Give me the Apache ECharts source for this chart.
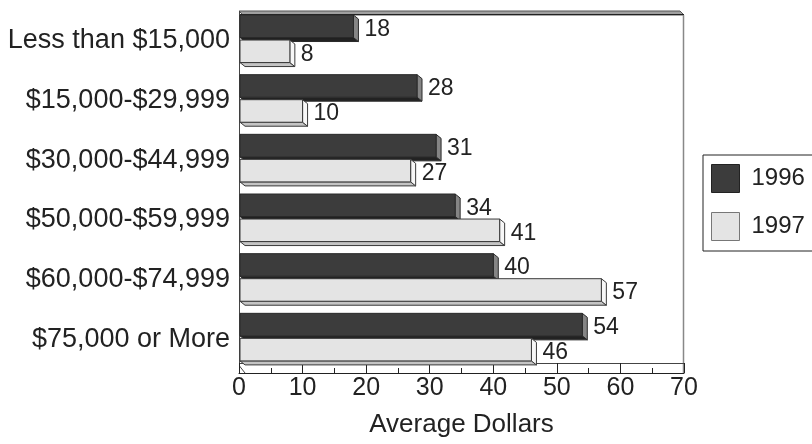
<!DOCTYPE html>
<html>
<head>
<meta charset="utf-8">
<script src="https://cdn.jsdelivr.net/npm/echarts@6/dist/echarts.min.js"></script>
<style>
html,body{margin:0;padding:0;background:#fff;}
#c{width:812px;height:444px;}
</style>
</head>
<body>
<div id="c"></div>
<script>
var categories = ['Less than $15,000', '$15,000-$29,999', '$30,000-$44,999', '$50,000-$59,999', '$60,000-$74,999', '$75,000 or More'];
var values1996 = [18, 28, 31, 34, 40, 54];
var values1997 = [8, 10, 27, 41, 57, 46];
var xTicks = [0, 10, 20, 30, 40, 50, 60, 70];

var FONT = '"Liberation Sans", Arial, sans-serif';
var styles = [
  {front: '#3c3c3c', side: '#858585', bottom: '#222222', stroke: '#2a2a2a', topFrac: 4 / 59.6},
  {front: '#e4e4e4', side: '#f7f7f7', bottom: '#c4c4c4', stroke: '#3a3a3a', topFrac: 29 / 59.6}
];

function makeRender(k) {
  var st = styles[k];
  return function (params, api) {
    var val = api.value(0);
    var idx = api.value(1);
    var s = api.coord([0, idx]);
    var e = api.coord([val, idx]);
    var band = api.size([0, 1])[1];
    var top = s[1] - band / 2 + st.topFrac * band;
    var h = 22.5 / 59.6 * band;
    var x0 = s[0] + 1, x1 = e[0];
    var y0 = top, y1 = top + h;
    var dx = 5, dy = 4;
    var ls = {stroke: st.stroke, lineWidth: 1};
    return {
      type: 'group',
      children: [
        {type: 'polygon', shape: {points: [[x0, y1], [x1, y1], [x1 + dx, y1 + dy], [x0 + dx, y1 + dy]]},
          style: Object.assign({fill: st.bottom}, ls)},
        {type: 'polygon', shape: {points: [[x1, y0], [x1 + dx, y0 + dy], [x1 + dx, y1 + dy], [x1, y1]]},
          style: Object.assign({fill: st.side}, ls)},
        {type: 'rect', shape: {x: x0, y: y0, width: x1 - x0, height: h},
          style: Object.assign({fill: st.front}, ls)},
        {type: 'text', x: x1 + dx + 6, y: y0 + h / 2 + 3,
          style: {text: String(val), fill: '#222', font: '23px ' + FONT, textAlign: 'left', textVerticalAlign: 'middle'}}
      ]
    };
  };
}

var chart = echarts.init(document.getElementById('c'));
chart.setOption({
  animation: false,
  backgroundColor: '#fff',
  textStyle: {fontFamily: FONT},
  grid: {left: 239, right: 128, top: 11, bottom: 75, containLabel: false, outerBoundsMode: 'none'},
  legend: {
    orient: 'vertical', left: 703, top: 155,
    itemWidth: 28, itemHeight: 28, itemGap: 19,
    padding: [9, 20, 10, 8],
    borderColor: '#222', borderWidth: 1,
    textStyle: {fontSize: 24, color: '#222', fontFamily: FONT, padding: [0, 0, 0, 7]},
    data: [
      {name: '1996', icon: 'rect', itemStyle: {color: '#3c3c3c', borderColor: '#222', borderWidth: 1}},
      {name: '1997', icon: 'rect', itemStyle: {color: '#e4e4e4', borderColor: '#777', borderWidth: 1}}
    ]
  },
  xAxis: {
    type: 'value', min: xTicks[0], max: xTicks[xTicks.length - 1], interval: 10,
    offset: 4,
    name: 'Average Dollars', nameLocation: 'middle', nameGap: 39,
    nameTextStyle: {fontSize: 26, color: '#222', fontFamily: FONT},
    axisLine: {show: true, lineStyle: {color: '#222', width: 1}},
    axisTick: {show: true, inside: true, length: 10, lineStyle: {color: '#222'}},
    minorTick: {show: true, splitNumber: 2, length: 5, lineStyle: {color: '#222'}},
    splitLine: {show: false},
    axisLabel: {fontSize: 25, color: '#222', margin: 3, fontFamily: FONT}
  },
  yAxis: {
    type: 'category', data: categories, inverse: true,
    axisLine: {show: false}, axisTick: {show: false}, splitLine: {show: false},
    axisLabel: {fontSize: 27, color: '#222', margin: 9, fontFamily: FONT}
  },
  graphic: [
    {type: 'polygon', shape: {points: [[239, 11], [680, 11], [684, 15], [243, 15]]}, style: {fill: '#a0a0a0', stroke: '#555', lineWidth: 1}},
    {type: 'line', shape: {x1: 239, y1: 14.5, x2: 684, y2: 14.5}, style: {stroke: '#222', lineWidth: 1}},
    {type: 'line', shape: {x1: 239.5, y1: 11, x2: 239.5, y2: 366}, style: {stroke: '#444', lineWidth: 1}},
    {type: 'line', shape: {x1: 683.5, y1: 15, x2: 683.5, y2: 373}, style: {stroke: '#888', lineWidth: 1.5}},
    {type: 'line', shape: {x1: 239, y1: 363.5, x2: 684, y2: 363.5}, style: {stroke: '#444', lineWidth: 1}},
    {type: 'polyline', shape: {points: [[239.5, 366], [245, 373]]}, style: {stroke: '#444', lineWidth: 1}}
  ],
  series: [
    {name: '1996', type: 'custom', renderItem: makeRender(0),
      itemStyle: {color: '#3c3c3c'},
      encode: {x: 0, y: 1},
      data: values1996.map(function (v, i) { return [v, i]; })},
    {name: '1997', type: 'custom', renderItem: makeRender(1),
      itemStyle: {color: '#e4e4e4'},
      encode: {x: 0, y: 1},
      data: values1997.map(function (v, i) { return [v, i]; })}
  ]
});
</script>
</body>
</html>
